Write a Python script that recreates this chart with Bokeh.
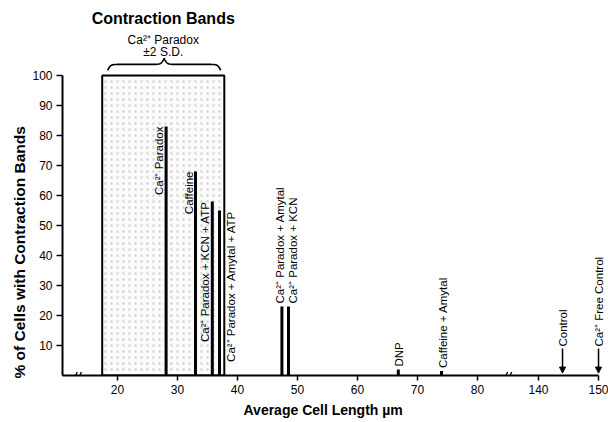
import numpy as np
from bokeh.plotting import figure
from bokeh.models import (ColumnDataSource, FixedTicker, Label, Arrow, NormalHead, Range1d, Title)
from bokeh.core.properties import value
from bokeh.embed import file_html
from bokeh.resources import INLINE

# ---------------- data ----------------
treatments = ["Ca²⁺ Paradox", "Caffeine", "Ca²⁺ Paradox + KCN + ATP",
              "Ca²⁺ Paradox + Amytal + ATP", "Ca²⁺ Paradox + Amytal",
              "Ca²⁺ Paradox + KCN", "DNP", "Caffeine + Amytal"]
cell_length = [28.1, 33.0, 35.8, 37.0, 47.4, 48.5, 66.8, 74.0]
pct_bands = [83, 68, 58, 55, 23, 23, 2, 1.5]

controls = ["Control", "Ca²⁺ Free Control"]
control_length = [144, 150]

paradox_sd_range = [17.45, 37.8]   # Ca2+ paradox mean ± 2 S.D.
paradox_box_top = 100

x_ticks = [20, 30, 40, 50, 60, 70, 80, 140, 150]
y_ticks = [10, 20, 30, 40, 50, 60, 70, 80, 90, 100]

# ---------------- broken-axis mapping ----------------
BREAK_SHIFT = 140 - 90.17
def tx(v):
    v = np.asarray(v, dtype=float)
    return np.where(v > 100, v - BREAK_SHIFT, v)

FONT = "Liberation Sans"
X0, X1 = 10.833, 101.833

p = figure(width=608, height=422, output_backend="svg", toolbar_location=None,
           x_range=Range1d(X0, X1), y_range=Range1d(0, 125),
           min_border_left=62, min_border_right=0, min_border_top=0,
           min_border_bottom=47)
p.outline_line_color = None
p.grid.grid_line_color = None
p.background_fill_color = "white"

# axes
for ax in (p.xaxis, p.yaxis):
    ax.axis_line_width = 2
    ax.axis_line_color = "black"
    ax.major_tick_line_width = 1.5
    ax.major_tick_line_color = "black"
    ax.major_tick_in = 0
    ax.minor_tick_line_color = None
    ax.major_label_text_font = FONT
    ax.major_label_text_font_size = "12px"
    ax.major_label_text_color = "black"

p.xaxis.ticker = FixedTicker(ticks=list(tx(x_ticks)))
p.xaxis.major_label_overrides = {float(t): str(v) for t, v in zip(tx(x_ticks), x_ticks)}
p.xaxis.bounds = (X0, float(tx(150)))
p.xaxis.major_tick_out = 5
p.xaxis.major_label_standoff = 4

p.yaxis.ticker = FixedTicker(ticks=y_ticks)
p.yaxis.bounds = (0, 100)
p.yaxis.major_tick_out = 6
p.yaxis.major_label_standoff = 4

# shaded ±2 S.D. box (stippled)
p.quad(left=[paradox_sd_range[0]], right=[paradox_sd_range[1]], bottom=[0], top=[paradox_box_top],
       fill_color="#fbfbfb", hatch_pattern="dot", hatch_color="#cfcfcf", hatch_scale=6,
       hatch_weight=0.5, hatch_alpha=0.7, line_color="black", line_width=2)

# bars
src = ColumnDataSource(dict(x=tx(cell_length), top=pct_bands, label=treatments))
p.vbar(x="x", top="top", bottom=0, width=0.5, source=src, fill_color="black", line_color=None)

def tsrc(idx):
    return ColumnDataSource(dict(x=[float(tx(cell_length[i])) for i in idx],
                                 y=[pct_bands[i] for i in idx],
                                 t=[treatments[i] for i in idx]))

common = dict(angle=np.pi / 2, text_font=value(FONT), text_font_size="11.5px", text_color="black")
# labels left of bars, ending at bar top
p.text(x="x", y="y", text="t", source=tsrc([0, 1, 2]), text_align="right",
       text_baseline="bottom", x_offset=-1, **common)
# label right of box edge
p.text(x="x", y="y", text="t", source=tsrc([3]), text_align="right",
       text_baseline="top", x_offset=5, **common)
# labels above bars
for i, xo in zip([4, 5, 6, 7], [-2, 4, 1, 1]):
    p.text(x="x", y="y", text="t", source=tsrc([i]), text_align="left",
           text_baseline="middle", x_offset=xo, y_offset=-3, **common)

# control arrows
csrc = ColumnDataSource(dict(x=tx(control_length), y0=[9] * 2, y1=[0.8] * 2, t=controls))
p.add_layout(Arrow(x_start="x", y_start="y0", x_end="x", y_end="y1", source=csrc,
                   line_width=1.5, line_color="black",
                   end=NormalHead(size=6, fill_color="black", line_color="black")))
p.text(x="x", y="y0", text="t", source=csrc, text_align="left", text_baseline="middle",
       y_offset=-2, **common)

# axis break marks
for c in (X0 + 2.55, float(tx(80)) + 5.1):
    for d in (-0.35, 0.35):
        p.add_layout(Arrow(x_start=c + d - 0.25, y_start=-1.2, x_end=c + d + 0.25, y_end=1.2,
                           end=None, line_width=1.3, line_color="black"))

# curly brace above the box
def brace(x0, x1, ybase, h, beta=4.0, n=200):
    half = (x1 - x0) / 2
    xh = np.linspace(0, half, n)
    yh = 1 / (1 + np.exp(-beta * (xh - xh[0]))) + 1 / (1 + np.exp(-beta * (xh - xh[-1])))
    xs = np.concatenate([x0 + xh, x0 + half + xh[1:]])
    ys = np.concatenate([yh, yh[-2::-1]])
    return xs, ybase + (ys - 0.5) * h

bx, by = brace(paradox_sd_range[0] + 0.9, paradox_sd_range[1] - 0.6, 101.7, 4.0)
p.line(bx, by, line_color="black", line_width=1.6)

cx = (paradox_sd_range[0] + paradox_sd_range[1]) / 2
p.add_layout(Label(x=cx, y=119, text="Contraction Bands", text_align="center",
                   text_baseline="middle", text_font=FONT, text_font_size="16px",
                   text_font_style="bold", text_color="black"))
p.add_layout(Label(x=cx, y=111.7, text="Ca²⁺ Paradox", text_align="center",
                   text_baseline="middle", text_font=FONT, text_font_size="12px", text_color="black"))
p.add_layout(Label(x=cx, y=107.7, text="±2 S.D.", text_align="center",
                   text_baseline="middle", text_font=FONT, text_font_size="12px", text_color="black"))

# axis titles
has_standoff = "standoff" in Title.properties()
ylab = Title(text="% of Cells with Contraction Bands", align="left", offset=-3,
             text_font=FONT, text_font_size="15.5px", text_font_style="bold", text_color="black")
xlab = Title(text="Average Cell Length µm", align="left", offset=181,
             text_font=FONT, text_font_size="14px", text_font_style="bold", text_color="black")
if has_standoff:
    ylab.standoff = 4
    xlab.standoff = 7
p.add_layout(ylab, "left")
p.add_layout(xlab, "below")

open("out.html", "w").write(file_html(p, INLINE))
